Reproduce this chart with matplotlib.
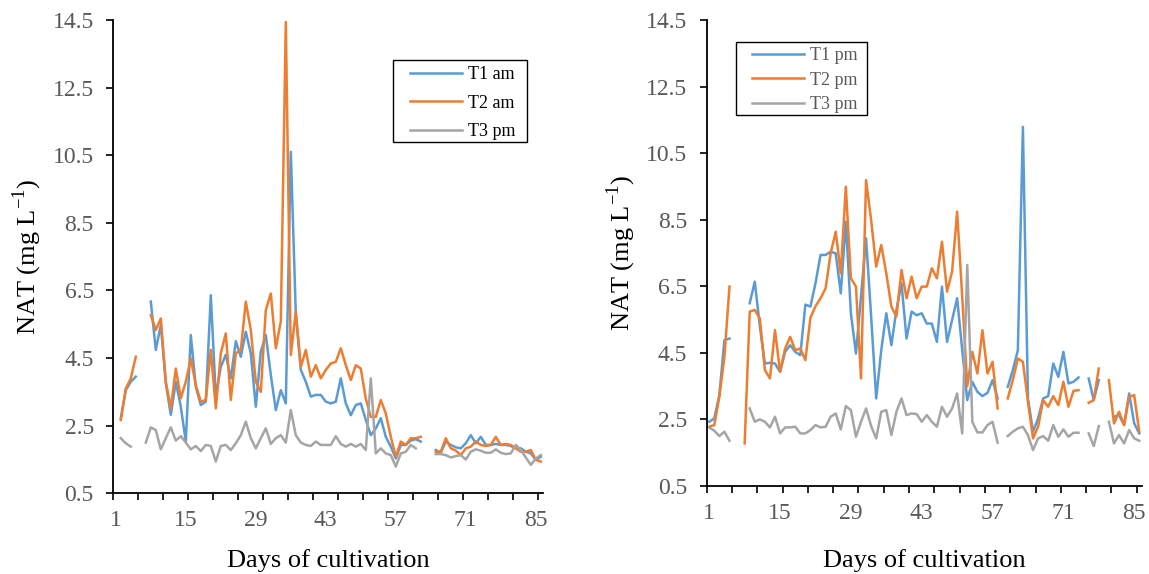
import matplotlib.pyplot as plt
from matplotlib.patches import Rectangle
import numpy as np

plt.rcParams['font.family'] = ['Liberation Serif', 'DejaVu Serif']
plt.rcParams['mathtext.fontset'] = 'custom'
plt.rcParams['mathtext.rm'] = 'Liberation Serif'

nan = np.nan
days = np.arange(1, 87)

# left panel: morning
t1_am = [nan, 2.72, 3.55, 3.8, 3.95, nan, nan, 6.17, 4.74, 5.48,
         3.75, 2.82, 3.8, 3.06, 2.03, 5.18, 3.65, 3.11, 3.21, 6.36,
         3.36, 4.24, 4.6, 3.9, 5.0, 4.54, 5.28, 4.64, 3.06, 4.69,
         5.18, 4.0, 2.96, 3.55, 3.16, 10.6, 5.82, 4.15, 3.8, 3.36,
         3.41, 3.41, 3.21, 3.16, 3.21, 3.9, 3.16, 2.81, 3.11, 3.16,
         2.67, 2.22, 2.42, 2.72, 2.17, 1.88, 1.53, 1.93, 1.93, 2.06,
         2.1, 2.03, nan, nan, 1.78, 1.70, 2.03, 1.93, 1.86, 1.83,
         1.98, 2.22, 1.98, 2.17, 1.93, 1.93, 1.96, 1.93, 1.93, 1.9,
         1.83, 1.83, 1.73, 1.68, 1.49, 1.58]
t2_am = [nan, 2.67, 3.6, 3.9, 4.54, nan, nan, 5.77, 5.33, 5.67,
         3.8, 3.01, 4.19, 3.31, 3.8, 4.49, 3.7, 3.21, 3.26, 4.74,
         3.01, 4.64, 5.23, 3.26, 4.64, 4.74, 6.17, 5.33, 3.8, 3.5,
         5.92, 6.41, 4.79, 5.58, 14.44, 4.59, 5.87, 4.24, 4.74, 3.95,
         4.29, 3.9, 4.15, 4.34, 4.39, 4.79, 4.29, 3.85, 4.29, 4.19,
         3.3, 2.76, 2.76, 3.26, 2.86, 2.17, 1.58, 2.03, 1.93, 2.13,
         2.13, 2.17, nan, nan, 1.73, 1.73, 2.13, 1.83, 1.76, 1.63,
         1.83, 1.88, 2.03, 1.93, 1.9, 1.93, 2.17, 1.93, 1.96, 1.93,
         1.83, 1.73, 1.73, 1.78, 1.49, 1.44]
t3_am = [nan, 2.13, 1.98, 1.88, nan, nan, 2.0, 2.45, 2.37, 1.8,
         2.13, 2.45, 2.06, 2.19, 2.0, 1.8, 1.9, 1.75, 1.93, 1.9,
         1.44, 1.9, 1.93, 1.78, 1.98, 2.22, 2.62, 2.13, 1.83, 2.13,
         2.42, 1.96, 2.13, 2.22, 2.0, 2.96, 2.22, 2.0, 1.93, 1.9,
         2.03, 1.93, 1.93, 1.93, 2.19, 1.96, 1.88, 1.96, 1.88, 1.96,
         1.78, 3.9, 1.68, 1.83, 1.68, 1.63, 1.29, 1.68, 1.73, 1.93,
         1.83, nan, nan, nan, 1.66, 1.66, 1.63, 1.56, 1.6, 1.63,
         1.5, 1.73, 1.8, 1.76, 1.7, 1.7, 1.8, 1.7, 1.66, 1.68,
         1.93, 1.78, 1.56, 1.34, 1.53, 1.63]

# right panel: afternoon
t1_pm = [2.43, 2.53, 3.23, 4.88, 4.93, nan, nan, nan, 5.99, 6.64,
         5.3, 4.18, 4.2, 4.18, 3.93, 4.53, 4.73, 4.53, 4.43, 5.95,
         5.89, 6.59, 7.44, 7.44, 7.54, 7.49, 6.29, 8.44, 5.69, 4.48,
         6.2, 7.94, 5.6, 3.13, 4.58, 5.69, 4.73, 5.79, 6.59, 4.93,
         5.74, 5.63, 5.69, 5.38, 5.38, 4.83, 6.49, 4.83, 5.48, 6.14,
         4.6, 3.08, 3.63, 3.33, 3.2, 3.3, 3.68, 3.13, nan, 3.48,
         3.98, 4.58, 11.29, 3.13, 2.13, 2.53, 3.13, 3.2, 4.18, 3.78,
         4.53, 3.58, 3.63, 3.76, nan, 3.73, 3.08, 3.68, nan, nan,
         2.58, 2.63, 2.33, 3.28, 2.38, 2.08]
t2_pm = [2.28, 2.33, 3.18, 4.38, 6.49, nan, nan, 1.78, 5.74, 5.79,
         5.53, 3.98, 3.73, 5.18, 3.93, 4.63, 4.98, 4.58, 4.63, 4.28,
         5.55, 5.9, 6.14, 6.44, 7.49, 8.14, 6.89, 9.49, 6.74, 6.49,
         3.73, 9.69, 8.49, 7.09, 7.74, 6.89, 5.89, 5.59, 6.99, 6.14,
         6.79, 6.14, 6.49, 6.49, 7.04, 6.74, 7.84, 6.34, 6.94, 8.74,
         6.2, 3.5, 4.53, 3.88, 5.18, 3.88, 4.23, 2.83, nan, 3.13,
         3.68, 4.33, 4.23, 3.03, 1.93, 2.28, 3.08, 2.88, 3.2, 2.93,
         3.63, 2.88, 3.36, 3.38, nan, 3.0, 3.08, 4.03, nan, 3.68,
         2.38, 2.73, 2.33, 3.18, 3.23, 2.13]
t3_pm = [2.26, 2.16, 2.0, 2.13, 1.86, nan, nan, nan, 2.83, 2.43,
         2.5, 2.43, 2.26, 2.58, 2.08, 2.26, 2.26, 2.28, 2.08, 2.08,
         2.18, 2.33, 2.26, 2.28, 2.58, 2.68, 2.2, 2.9, 2.78, 1.98,
         2.43, 2.83, 2.3, 1.93, 2.73, 2.78, 2.03, 2.73, 3.13, 2.63,
         2.68, 2.66, 2.43, 2.63, 2.43, 2.28, 2.88, 2.58, 2.83, 3.28,
         2.08, 7.14, 2.43, 2.11, 2.11, 2.33, 2.43, 1.8, nan, 2.0,
         2.13, 2.23, 2.28, 2.03, 1.58, 1.93, 2.0, 1.86, 2.33, 1.98,
         2.2, 1.98, 2.1, 2.1, nan, 2.08, 1.7, 2.3, nan, 2.43,
         1.78, 2.03, 1.78, 2.18, 1.93, 1.86]

colors = ['#5B9BD5', '#ED7D31', '#A5A5A5']
yticks = np.arange(0.5, 15, 2)
xlabels = [1, 15, 29, 43, 57, 71, 85]

fig = plt.figure(figsize=(11.49, 5.74), dpi=100)
W, H = 1149, 574


def panel(rect, series, names, box, leg_xy, leg_color, spacing, xpad):
    x0, y0, x1, y1 = rect
    ax = fig.add_axes([x0 / W, 1 - y1 / H, (x1 - x0) / W, (y1 - y0) / H])
    for s, name, c in zip(series, names, colors):
        ax.plot(days, s, color=c, lw=1.8, label=name)
    ax.set_xlim(0.5, 86.5)
    ax.set_ylim(0.5, 14.5)
    ax.set_yticks(yticks)
    ax.set_yticklabels([f'{v:.1f}' for v in yticks])
    ax.set_xticks(xlabels)
    ax.set_xticks(np.arange(0.5, 86, 5), minor=True)
    ax.tick_params(axis='x', which='major', length=0, pad=12)
    ax.tick_params(axis='x', which='minor', length=5, width=1.2, direction='out')
    ax.tick_params(axis='y', length=5, width=1.2, direction='out', pad=9)
    ax.tick_params(labelsize=17, labelcolor='#595959')
    for side in ['top', 'right']:
        ax.spines[side].set_visible(False)
    for side in ['left', 'bottom']:
        ax.spines[side].set_linewidth(1.3)
    ax.set_xlabel('Days of cultivation', fontsize=19, labelpad=xpad)
    ax.set_ylabel('NAT (mg L$^{\\mathregular{-1}}$)', fontsize=19, labelpad=6)

    # legend frame drawn separately so its size matches the original
    bx0, by0, bx1, by1 = box
    fig.patches.append(Rectangle((bx0 / W, 1 - by1 / H), (bx1 - bx0) / W, (by1 - by0) / H,
                                 transform=fig.transFigure, fill=False,
                                 edgecolor='black', lw=1.0))
    leg = ax.legend(loc='upper left', bbox_to_anchor=(leg_xy[0] / W, 1 - leg_xy[1] / H),
                    bbox_transform=fig.transFigure, fontsize=13, frameon=False,
                    handlelength=2.9, handletextpad=0.3, labelspacing=spacing,
                    borderpad=0, borderaxespad=0)
    for t in leg.get_texts():
        t.set_color(leg_color)
    return ax


panel((113.3, 20, 543.3, 493.3), [t1_am, t2_am, t3_am], ['T1 am', 'T2 am', 'T3 pm'],
      (393, 60, 527, 142), (410, 66), 'black', 0.64, 13)
panel((706.7, 20, 1141.8, 486), [t1_pm, t2_pm, t3_pm], ['T1 pm', 'T2 pm', 'T3 pm'],
      (736, 42, 867, 115), (752, 47), '#595959', 0.42, 18)

plt.savefig('out.png', dpi=100)
plt.close()
